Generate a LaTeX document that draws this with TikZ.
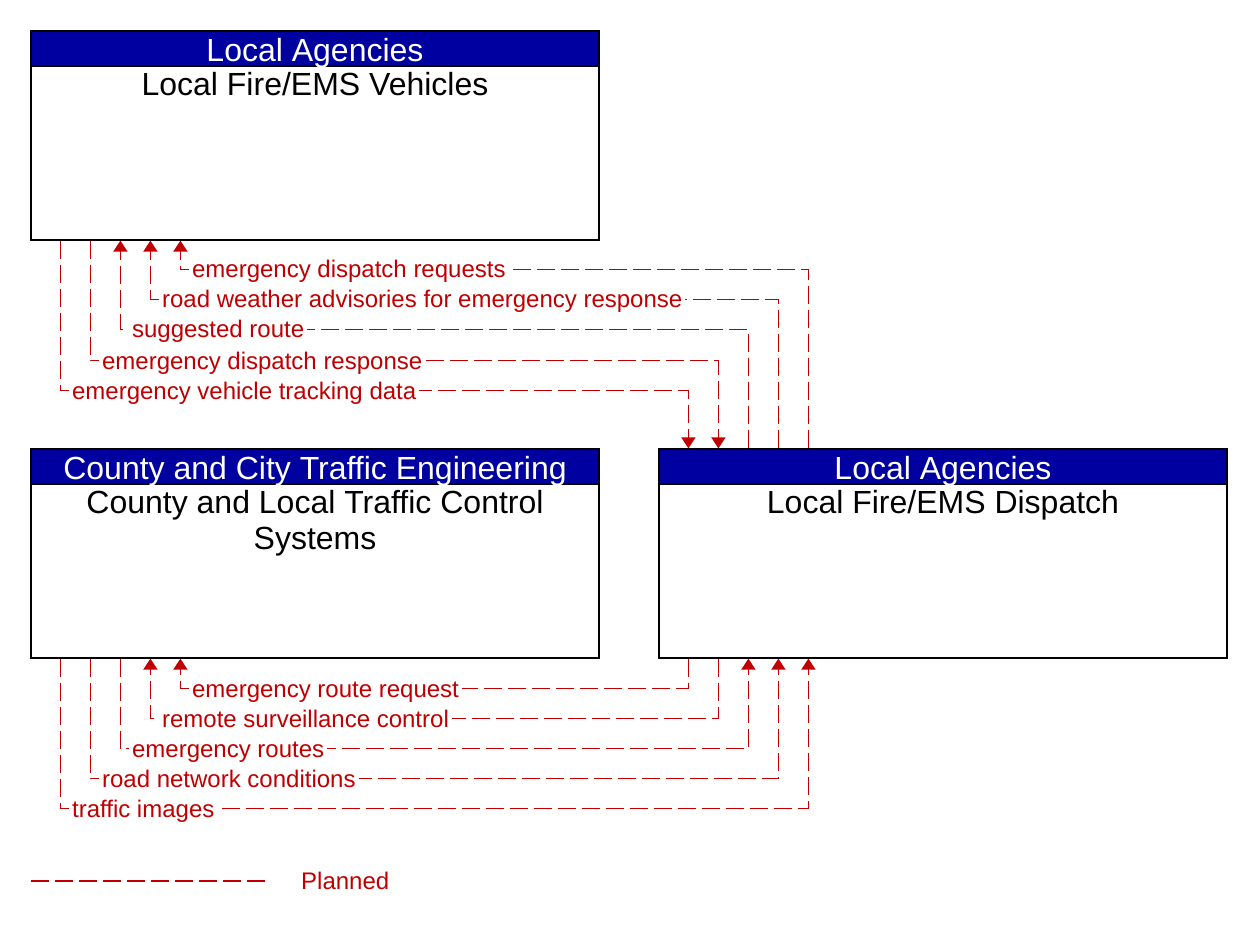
\documentclass[tikz,border=0pt]{standalone}
\usepackage{fontspec}
\setmainfont{Liberation Sans}
\usetikzlibrary{arrows.meta,calc}
\definecolor{flowred}{RGB}{192,0,0}
\definecolor{hdrblue}{RGB}{0,0,160}
\tikzset{
  elem/.style={draw=black,line width=1.2pt,minimum width=568pt,minimum height=209pt,inner sep=0pt},
  hdr/.style={draw=black,line width=1.2pt,fill=hdrblue,text=white,minimum width=568pt,minimum height=35pt,inner sep=0pt,anchor=north,text height=26pt,text depth=1pt,font=\fontsize{32}{36}\selectfont},
  ename/.style={font=\fontsize{32}{36}\selectfont,align=center,anchor=base,inner sep=0pt},
  flow/.style={draw=flowred,line width=1.4pt,dash pattern=on 18pt off 6pt},
  toarrow/.style={-{Triangle[width=14pt,length=11pt]}},
  flabel/.style={fill=white,text=flowred,font=\fontsize{24}{28}\selectfont,inner xsep=3pt,inner ysep=1.5pt,anchor=base west,xshift=8pt,yshift=-8.5pt}
}
\begin{document}
\begin{tikzpicture}[x=1pt,y=-1pt]
\useasboundingbox (0,0) rectangle (1252,927);
% elements
\node[elem] (veh) at (315,135.5) {};
\node[hdr] (vehH) at (veh.north) {Local Agencies};
\node[ename] (vehN) at ([yshift=-65pt]veh.north) {Local Fire/EMS Vehicles};

\node[elem] (tcs) at (315,553.5) {};
\node[hdr] (tcsH) at (tcs.north) {County and City Traffic Engineering};
\node[ename] (tcsN) at ([yshift=-101pt]tcs.north) {County and Local Traffic Control\\Systems};

\node[elem] (disp) at (943,553.5) {};
\node[hdr] (dispH) at (disp.north) {Local Agencies};
\node[ename] (dispN) at ([yshift=-65pt]disp.north) {Local Fire/EMS Dispatch};

% top flows
\draw[flow,toarrow] ([xshift=150pt]disp.north west) -- ++(0,-179) -| node[flabel,pos=0.5] (l1) {emergency dispatch requests} ([xshift=150pt]veh.south west);
\draw[flow,toarrow] ([xshift=120pt]disp.north west) -- ++(0,-149) -| node[flabel,pos=0.5] (l2) {road weather advisories for emergency response} ([xshift=120pt]veh.south west);
\draw[flow,toarrow] ([xshift=90pt]disp.north west) -- ++(0,-119) -| node[flabel,pos=0.5] (l3) {suggested route} ([xshift=90pt]veh.south west);
\draw[flow,toarrow] ([xshift=60pt]veh.south west) -- ++(0,120) node[flabel] (l4) {emergency dispatch response} -| ([xshift=60pt]disp.north west);
\draw[flow,toarrow] ([xshift=30pt]veh.south west) -- ++(0,150) node[flabel] (l5) {emergency vehicle tracking data} -| ([xshift=30pt]disp.north west);

% bottom flows
\draw[flow,toarrow] ([xshift=30pt]disp.south west) -- ++(0,30) -| node[flabel,pos=0.5] (l6) {emergency route request} ([xshift=150pt]tcs.south west);
\draw[flow,toarrow] ([xshift=60pt]disp.south west) -- ++(0,60) -| node[flabel,pos=0.5] (l7) {remote surveillance control} ([xshift=120pt]tcs.south west);
\draw[flow,toarrow] ([xshift=90pt]tcs.south west) -- ++(0,90) node[flabel] (l8) {emergency routes} -| ([xshift=90pt]disp.south west);
\draw[flow,toarrow] ([xshift=60pt]tcs.south west) -- ++(0,120) node[flabel] (l9) {road network conditions} -| ([xshift=120pt]disp.south west);
\draw[flow,toarrow] ([xshift=30pt]tcs.south west) -- ++(0,150) node[flabel] (l10) {traffic images} -| ([xshift=150pt]disp.south west);

% legend
\coordinate (lg1) at (31,881);
\coordinate (lg2) at (265,881);
\draw[flow] (lg1) -- (lg2);
\node[text=flowred,anchor=base west,inner sep=0pt,font=\fontsize{24}{28}\selectfont] (lgt) at (301,889) {Planned};
\end{tikzpicture}
\end{document}
